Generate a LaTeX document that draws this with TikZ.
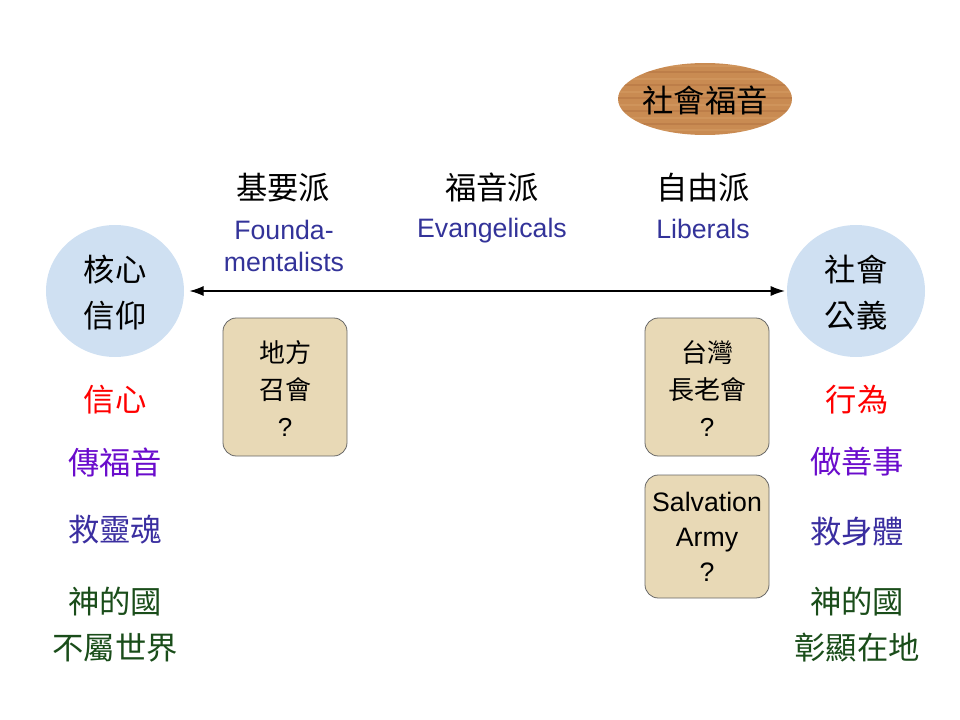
\documentclass[tikz,border=0pt]{standalone}
\usepackage{fontspec}
\setmainfont{Liberation Sans}
\newfontfamily\cjk{Noto Sans CJK TC}
\usetikzlibrary{arrows.meta,shapes.geometric}
\definecolor{wood}{HTML}{C98B52}
\definecolor{wooddark}{HTML}{A8683A}
\definecolor{woodlight}{HTML}{DDA66C}
\definecolor{paleblue}{HTML}{CFE0F2}
\definecolor{parch}{HTML}{E8D9B6}
\definecolor{engblue}{HTML}{333399}
\definecolor{redtxt}{HTML}{FF0000}
\definecolor{purtxt}{HTML}{6A0CCC}
\definecolor{bluetxt}{HTML}{3A2EA0}
\definecolor{greentxt}{HTML}{1A4D1A}
\tikzset{
  cjkbig/.style={font={\cjk\fontsize{23.5}{34.5}\selectfont}, align=center, inner sep=0pt},
  engtxt/.style={font={\fontsize{20}{24}\selectfont}, text=engblue, align=center, inner sep=0pt},
  bubble/.style={ellipse, minimum width=103.5pt, minimum height=99pt, fill=paleblue, inner sep=0pt},
  churchbox/.style={rounded corners=10pt, fill=parch, draw=gray!80!black, line width=0.6pt,
     minimum width=93pt, minimum height=103.5pt, inner sep=0pt, align=center},
  boxtxt/.style={font={\cjk\fontsize{19.5}{27.75}\selectfont}, align=center, inner sep=0pt},
}
\begin{document}
\begin{tikzpicture}[x=0.75pt,y=-0.75pt]
\useasboundingbox (0,0) rectangle (960,720);
% social gospel ellipse with wood grain
\begin{scope}
  \clip (705,99) ellipse [x radius=87, y radius=36];
  \fill[wood] (618,63) rectangle (792,135);
  \foreach \yy/\cc in {66/woodlight,72/wooddark,79/woodlight,85/wooddark,92/woodlight,98/wooddark,105/woodlight,111/wooddark,118/woodlight,124/wooddark,130/woodlight}
    \draw[\cc, line width=1pt, opacity=0.35] (618,\yy) -- (792,\yy);
\end{scope}
\node[cjkbig] (sg) at (705,100) {社會福音};
% headers
\node[cjkbig] (h1) at (283,188) {基要派};
\node[cjkbig] (h2) at (492,188) {福音派};
\node[cjkbig] (h3) at (703,188) {自由派};
\node[engtxt] (e1) at (284,246) {Founda-\\mentalists};
\node[engtxt] (e2) at (492,231) {Evangelicals};
\node[engtxt] (e3) at (703,229) {Liberals};
% circles
\node[bubble] (lc) at (115,291) {};
\node[cjkbig] (lct) at (115,293) {核心\\信仰};
\node[bubble] (rc) at (856,291) {};
\node[cjkbig] (rct) at (856,293) {社會\\公義};
% arrow
\draw[{Latex[length=10.5pt,width=7.5pt]}-{Latex[length=10.5pt,width=7.5pt]}, line width=0.8pt, shorten <=4pt, shorten >=1.5pt] (lc.east) -- (rc.west);
% boxes
\node[churchbox] (b1) at (285,387) {};
\node[boxtxt] (b1t) at (285,389) {地方\\召會\\{\rmfamily ?}};
\node[churchbox] (b2) at (707,387) {};
\node[boxtxt] (b2t) at (707,389) {台灣\\長老會\\{\rmfamily ?}};
\node[churchbox, minimum height=92.25pt] (b3) at (707,536.5) {};
\node[font={\fontsize{20}{26.25}\selectfont}, align=center, inner sep=0pt] (b3t) at (707,537) {Salvation\\Army\\?};
% left column
\node[cjkbig, text=redtxt] (l1) at (115,400) {信心};
\node[cjkbig, text=purtxt] (l2) at (115,462) {傳福音};
\node[cjkbig, text=bluetxt] (l3) at (115,530) {救靈魂};
\node[cjkbig, text=greentxt] (l4) at (115,624.5) {神的國\\不屬世界};
% right column
\node[cjkbig, text=redtxt] (r1) at (857,400) {行為};
\node[cjkbig, text=purtxt] (r2) at (857,462) {做善事};
\node[cjkbig, text=bluetxt] (r3) at (857,532) {救身體};
\node[cjkbig, text=greentxt] (r4) at (857,624.5) {神的國\\彰顯在地};
\end{tikzpicture}
\end{document}
